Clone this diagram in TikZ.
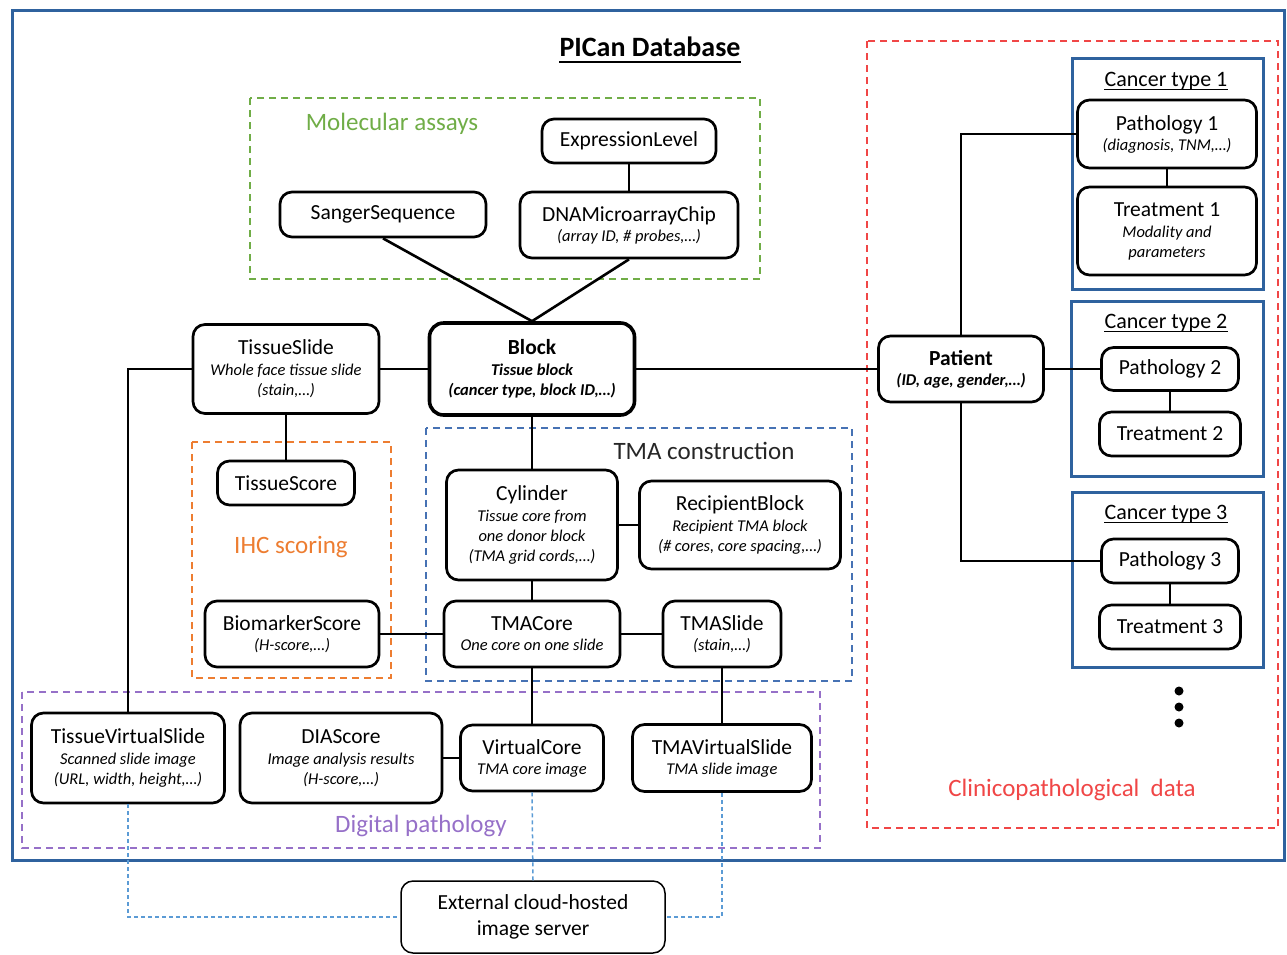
\documentclass[tikz,border=0pt]{standalone}
\usepackage{fontspec}
\setmainfont{Carlito}
\definecolor{frameblue}{RGB}{47,98,158}
\definecolor{molgreen}{RGB}{112,173,71}
\definecolor{ihcorange}{RGB}{237,125,49}
\definecolor{tmablue}{RGB}{70,114,180}
\definecolor{dpurple}{RGB}{150,112,200}
\definecolor{clinred}{RGB}{240,70,70}
\definecolor{linkblue}{RGB}{91,155,213}
\newcommand\mt[1]{{\fontsize{21.5}{24}\selectfont\upshape #1}}
\tikzset{
  bx/.style={draw, fill=white, rounded corners=12pt, line width=2.7pt, align=center, inner sep=0pt,
    font=\fontsize{16.5}{20}\selectfont\itshape},
  conn/.style={line width=2.6pt},
  grp/.style={line width=2pt, dash pattern=on 7pt off 5pt},
  glabel/.style={anchor=base, inner sep=0pt, font=\fontsize{25}{28}\selectfont},
  ctlabel/.style={anchor=base, inner sep=0pt, font=\fontsize{22}{26}\selectfont},
  ctbox/.style={draw=frameblue, line width=3pt},
  cloudlink/.style={draw=linkblue, line width=1.5pt, dash pattern=on 4pt off 3pt},
}
\begin{document}
\begin{tikzpicture}[x=1pt,y=-1pt]
\useasboundingbox (0,0) rectangle (1287,954);
% outer frame and groups
\draw[frameblue, line width=3pt] (12,10) rectangle (1284,860);
\draw[grp, molgreen] (250,98) rectangle (760,279);
\draw[grp, ihcorange] (192,442) rectangle (391,678);
\draw[grp, tmablue] (426,428) rectangle (852,681);
\draw[grp, dpurple] (22,692) rectangle (820,848);
\draw[grp, clinred] (867,41) rectangle (1278,828);
\draw[ctbox] (1072,58) rectangle (1263,289);
\draw[ctbox] (1071,301) rectangle (1263,476);
\draw[ctbox] (1072,492) rectangle (1263,667);

% titles and labels
\node[anchor=base, inner sep=0pt, font=\fontsize{28}{32}\selectfont\bfseries] (title) at (650,56) {PICan Database};
\draw[line width=2.5pt] ([yshift=-6pt]title.base west) -- ([yshift=-6pt]title.base east);
\node[glabel, text=molgreen] (lmol) at (392,130) {Molecular assays};
\node[glabel, text=black!85] (ltma) at (704,459) {TMA construction};
\node[glabel, text=ihcorange] (lihc) at (291,553) {IHC scoring};
\node[glabel, text=dpurple] (ldp) at (421,832) {Digital pathology};
\node[glabel, text=clinred] (lclin) at (1072,796) {Clinicopathological\ \ data};
\node[ctlabel] (ct1) at (1166,86) {Cancer type 1};
\node[ctlabel] (ct2) at (1166,328) {Cancer type 2};
\node[ctlabel] (ct3) at (1166,519) {Cancer type 3};
\foreach \c in {ct1,ct2,ct3}
  \draw[line width=1.4pt] ([yshift=-3.5pt]\c.base west) -- ([yshift=-3.5pt]\c.base east);

% nodes
\node[bx, minimum width=174pt, minimum height=44pt] (expr) at (629,141) {\mt{ExpressionLevel}};
\node[bx, minimum width=218pt, minimum height=66pt] (dna) at (629,225) {\mt{DNAMicroarrayChip}\\(array ID, \# probes,…)};
\node[bx, minimum width=206pt, minimum height=45pt] (sanger) at (383,214.5) {\mt{SangerSequence}};
\node[bx, minimum width=205pt, minimum height=92pt, line width=3.6pt, rounded corners=14pt,
      font=\fontsize{16.5}{20}\selectfont\bfseries\itshape] (block) at (532,369)
      {\mt{\bfseries Block}\\[1pt]Tissue block\\(cancer type, block ID,…)};
\node[bx, minimum width=186pt, minimum height=89pt] (tslide) at (286,369) {\mt{TissueSlide}\\[1pt]Whole face tissue slide\\(stain,…)};
\node[bx, minimum width=137pt, minimum height=44pt] (tscore) at (286,483) {\mt{TissueScore}};
\node[bx, minimum width=174pt, minimum height=66pt] (bscore) at (292,634) {\mt{BiomarkerScore}\\(H-score,…)};
\node[bx, minimum width=171pt, minimum height=110pt] (cyl) at (532,525) {\mt{Cylinder}\\[1pt]Tissue core from\\one donor block\\(TMA grid cords,…)};
\node[bx, minimum width=201pt, minimum height=88pt] (recip) at (740,525) {\mt{RecipientBlock}\\[1pt]Recipient TMA block\\(\# cores, core spacing,…)};
\node[bx, minimum width=176pt, minimum height=66pt] (tcore) at (532,634) {\mt{TMACore}\\One core on one slide};
\node[bx, minimum width=118pt, minimum height=66pt] (tmaslide) at (722,634) {\mt{TMASlide}\\(stain,…)};
\node[bx, minimum width=193pt, minimum height=90pt] (tvs) at (128,758) {\mt{TissueVirtualSlide}\\[1pt]Scanned slide image\\(URL, width, height,…)};
\node[bx, minimum width=202pt, minimum height=90pt] (dia) at (341,758) {\mt{DIAScore}\\[1pt]Image analysis results\\(H-score,…)};
\node[bx, minimum width=143pt, minimum height=66pt] (vcore) at (532,758) {\mt{VirtualCore}\\TMA core image};
\node[bx, minimum width=179pt, minimum height=67pt] (tmavs) at (722,758) {\mt{TMAVirtualSlide}\\TMA slide image};
\node[bx, minimum width=264pt, minimum height=72pt, line width=1.5pt, font=\fontsize{21.5}{26}\selectfont] (ext) at (533,917) {External cloud-hosted\\image server};
\node[bx, minimum width=165pt, minimum height=66pt, font=\fontsize{16.5}{20}\selectfont\bfseries\itshape] (patient) at (961,369) {\mt{\bfseries Patient}\\(ID, age, gender,…)};
\node[bx, minimum width=179pt, minimum height=68pt] (path1) at (1167,134) {\mt{Pathology 1}\\(diagnosis, TNM,…)};
\node[bx, minimum width=179pt, minimum height=88pt] (treat1) at (1167,231) {\mt{Treatment 1}\\[1pt]Modality and\\parameters};
\node[bx, minimum width=137pt, minimum height=43pt] (path2) at (1170,369) {\mt{Pathology 2}};
\node[bx, minimum width=141pt, minimum height=44pt] (treat2) at (1170,434) {\mt{Treatment 2}};
\node[bx, minimum width=137pt, minimum height=44pt] (path3) at (1170,561) {\mt{Pathology 3}};
\node[bx, minimum width=141pt, minimum height=44pt] (treat3) at (1170,627) {\mt{Treatment 3}};

% connectors
\draw[conn] (expr.south) -- (dna.north);
\draw[conn] (sanger.south) -- (block.north);
\draw[conn] (dna.south) -- (block.north);
\draw[conn] (tslide.east) -- (block.west);
\draw[conn] (tslide.south) -- (tscore.north);
\draw[conn] (tslide.west) -| (tvs.north);
\draw[conn] (block.south) -- (cyl.north);
\draw[conn] (block.east) -- (patient.west);
\draw[conn] (cyl.east) -- (recip.west);
\draw[conn] (cyl.south) -- (tcore.north);
\draw[conn] (bscore.east) -- (tcore.west);
\draw[conn] (tcore.east) -- (tmaslide.west);
\draw[conn] (tcore.south) -- (vcore.north);
\draw[conn] (tmaslide.south) -- (tmavs.north);
\draw[conn] (dia.east) -- (vcore.west);
\draw[conn] (patient.north) |- (path1.west);
\draw[conn] (patient.east) -- (path2.west);
\draw[conn] (patient.south) |- (path3.west);
\draw[conn] (path1.south) -- (treat1.north);
\draw[conn] (path2.south) -- (treat2.north);
\draw[conn] (path3.south) -- (treat3.north);
\draw[cloudlink] (tvs.south) |- (ext.west);
\draw[cloudlink] (vcore.south) -- (ext.north);
\draw[cloudlink] (tmavs.south) |- (ext.east);

% continuation dots
\foreach \yy in {691,707,723}
  \fill (1179,\yy) circle (4.5pt);
\end{tikzpicture}
\end{document}
